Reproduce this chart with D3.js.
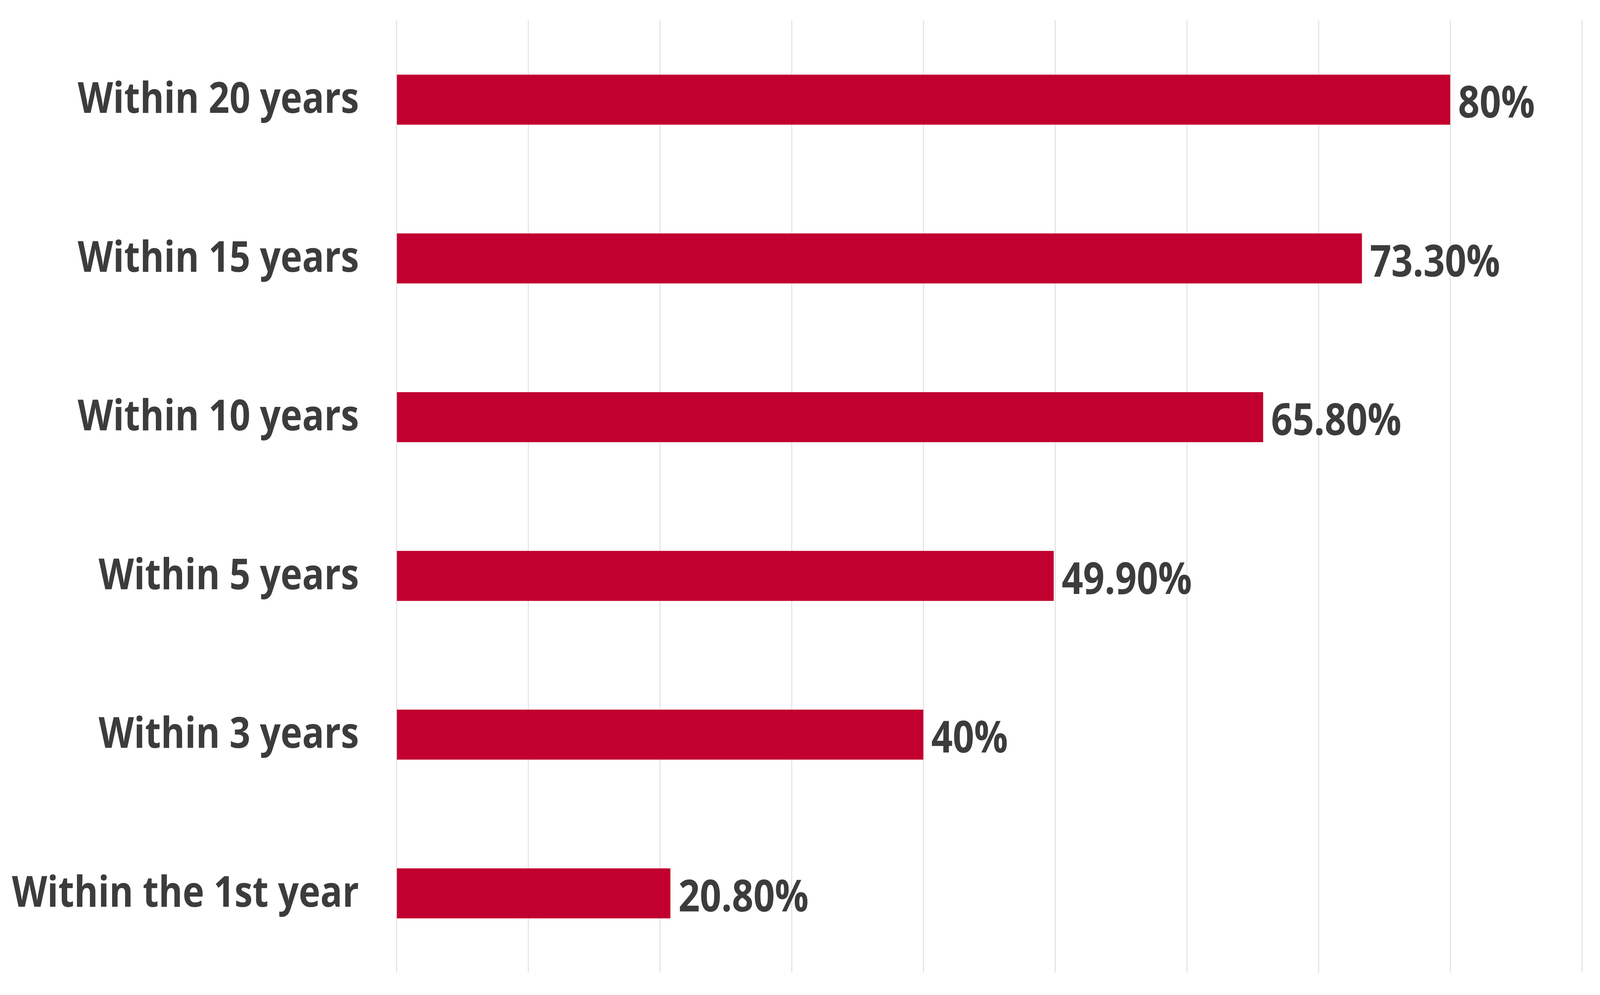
<!DOCTYPE html>
<html>
<head>
<meta charset="utf-8">
<script src="https://cdn.jsdelivr.net/npm/d3@7"></script>
<style>
  html, body { margin: 0; padding: 0; background: #fff; overflow: hidden; }
  #chart svg { display: block; width: 100vw; height: 100vh; }
  text { font-family: "Open Sans", "Noto Sans", sans-serif; font-weight: 700; fill: #3c3c3c; }
</style>
</head>
<body>
<div id="chart"></div>
<script>
// data, top row first
var categories = ["Within 20 years", "Within 15 years", "Within 10 years", "Within 5 years", "Within 3 years", "Within the 1st year"];
var values = [80, 73.3, 65.8, 49.9, 40, 20.8];
var valueLabels = ["80%", "73.30%", "65.80%", "49.90%", "40%", "20.80%"];
var gridTicks = [0, 10, 20, 30, 40, 50, 60, 70, 80, 90];

var W = 4821, H = 2548;
var margin = {top: 52, right: 55, bottom: 57, left: 1194.5};
var width = W - margin.left - margin.right,
    height = H - margin.top - margin.bottom;

// viewBox stretched over the whole window
var svg = d3.select("#chart")
    .append("svg")
    .attr("viewBox", "0 0 " + W + " " + H)
    .attr("preserveAspectRatio", "none")
    .style("background", "#fff")
    .append("g")
    .attr("transform", "translate(" + margin.left + "," + margin.top + ")");

// x scale: each gridline is 10%
var x = d3.scaleLinear()
    .domain([0, 90])
    .range([0, 3572]);

var y = d3.scaleBand()
    .domain(categories)
    .range([0, height])
    .paddingInner(0.685)
    .paddingOuter(0.3425);

// vertical gridlines from an axis with long ticks
var grid = svg.append("g")
    .attr("class", "grid")
    .attr("transform", "translate(0," + height + ")")
    .call(d3.axisBottom(x).tickValues(gridTicks).tickSize(height).tickSizeOuter(0).tickFormat(""));
grid.select(".domain").remove();
grid.selectAll("line")
    .attr("y2", -height)
    .attr("stroke", "#e1e1e1")
    .attr("stroke-width", 3);

// bars
svg.selectAll("rect.bar")
    .data(values)
    .enter()
    .append("rect")
    .attr("class", "bar")
    .attr("x", x(0) + 1.5)
    .attr("y", function(d, i){ return y(categories[i]); })
    .attr("width", function(d){ return x(d) - x(0) - 1.5; })
    .attr("height", y.bandwidth())
    .attr("fill", "#c1002f");

// category labels
svg.selectAll("text.cat")
    .data(categories)
    .enter()
    .append("text")
    .attr("class", "cat")
    .attr("x", -113)
    .attr("y", function(d){ return y(d) + y.bandwidth() / 2 + 34; })
    .attr("text-anchor", "end")
    .style("font-size", "110px")
    .text(function(d){ return d; });

// value labels
svg.selectAll("text.val")
    .data(values)
    .enter()
    .append("text")
    .attr("class", "val")
    .attr("x", function(d){ return x(d) + 24; })
    .attr("y", function(d, i){ return y(categories[i]) + y.bandwidth() / 2 + 46; })
    .style("font-size", "113px")
    .text(function(d, i){ return valueLabels[i]; });
</script>
</body>
</html>
